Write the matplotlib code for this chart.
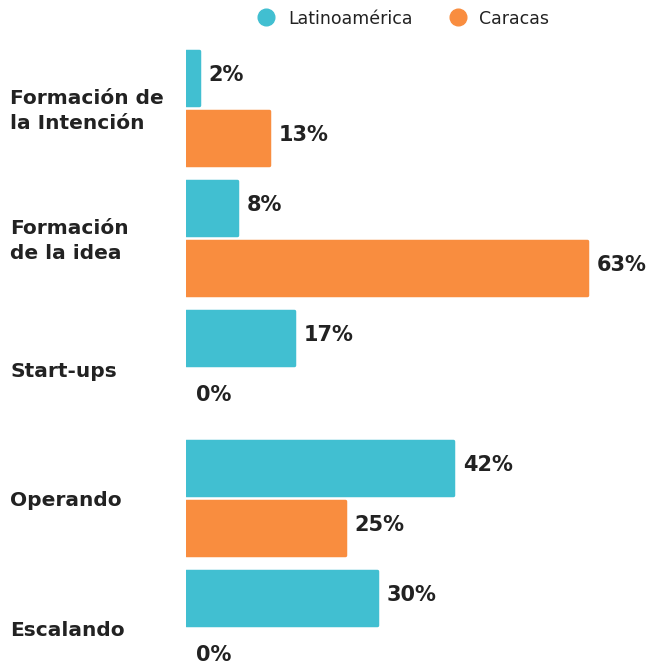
import numpy as np
import matplotlib
matplotlib.use("Agg")
import matplotlib.pyplot as plt
from matplotlib.lines import Line2D

categories = ["Formación de\nla Intención", "Formación\nde la idea", "Start-ups", "Operando", "Escalando"]
series_names = ["Latinoamérica", "Caracas"]
latam = [2, 8, 17, 42, 30]
caracas = [13, 63, 0, 25, 0]

teal = "#41BFD1"
orange = "#F98D3F"
ink = "#222222"

plt.rcParams["font.family"] = ["DejaVu Sans"]

W, H = 651, 661
fig = plt.figure(figsize=(W / 100, H / 100), dpi=100)
left = 186 / W
ax = fig.add_axes([left, 0, 1 - left, 1])

y = np.arange(len(categories))
off = 30 / 130
h = 54 / 130
for vals, sign, col in [(latam, -1, teal), (caracas, 1, orange)]:
    lw = [2.5 if v > 0 else 0 for v in vals]
    ax.barh(y + sign * off, vals, height=h, color=col, edgecolor=col,
            linewidth=lw, joinstyle="round")
    for yi, v in zip(y, vals):
        ax.text(v + 1.5 if v > 0 else 1.5, yi + sign * off - 0.02, f"{v}%", va="center",
                ha="left", fontsize=15, fontweight="bold", color=ink)

ax.set_xlim(0, (W - 186) / 6.365)
ax.set_ylim((H - 108) / 130, -108 / 130)
ax.axis("off")

for yi, c in zip(y, categories):
    fig.text(10 / W, 1 - (108 + 130 * yi + 3) / H, c, ha="left", va="center",
             fontsize=14.5, fontweight="bold", color=ink, linespacing=1.35)

handles = [Line2D([], [], marker="o", ls="", markersize=12, color=c) for c in (teal, orange)]
fig.legend(handles, series_names, loc="center", bbox_to_anchor=(0.613, 0.972), ncol=2,
           frameon=False, fontsize=12.5, handletextpad=0.25, columnspacing=1.6,
           labelcolor=ink)

fig.savefig("out.png", dpi=100)
